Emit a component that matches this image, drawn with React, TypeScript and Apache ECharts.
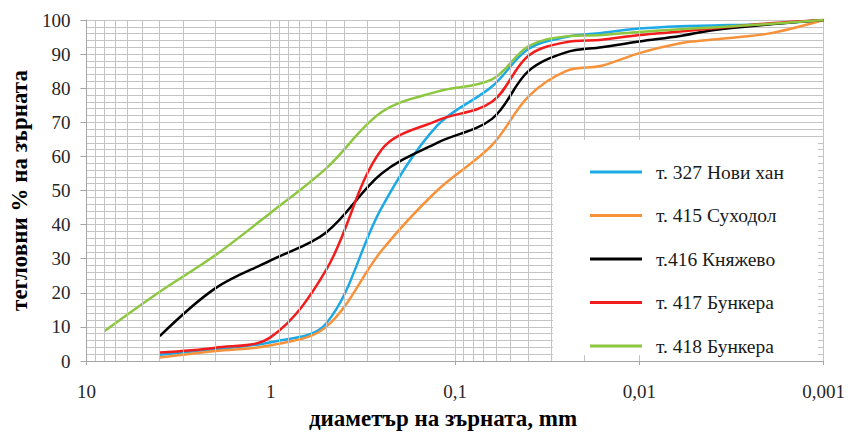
import React, { useEffect, useRef } from 'react';
import * as echarts from 'echarts';

// sieve / hydrometer diameters, mm
const diameters = [8, 4, 2, 1, 0.5, 0.25, 0.125, 0.063, 0.04, 0.025, 0.016, 0.01, 0.006, 0.004, 0.002, 0.001];

const seriesNames = ['т. 327 Нови хан', 'т. 415 Суходол', 'т.416 Княжево', 'т. 417 Бункера', 'т. 418 Бункера'];
const seriesColors = ['#1CA9E6', '#F7923A', '#000000', '#F21C1C', '#8DC63F'];

const noviHan = [null, 1.8, 3.5, 5.5, 11, 45, 69, 80.5, 91.5, 95, 96.2, 97.5, 98.2, 98.4, 98.8, 100];
const suhodol = [null, 1, 2.9, 4.6, 10, 32.4, 50, 63.3, 77.5, 85, 86.6, 90.3, 93.2, 94.3, 96, 100];
const knyazhevo = [null, 7.3, 21.3, 29.5, 37.7, 55, 64, 71, 85, 90.5, 92, 93.7, 95.3, 97, 98.7, 100];
const bunkera417 = [null, 2.5, 3.9, 7, 26.7, 62, 70.5, 76, 89.5, 93.5, 94.2, 95.6, 96.6, 97.5, 99, 100];
const bunkera418 = [8.7, 20.3, 31, 43.5, 56.5, 73, 79, 82.6, 92.3, 95.2, 95.6, 96.5, 97.3, 97.8, 98.8, 100];

const seriesValues = [noviHan, suhodol, knyazhevo, bunkera417, bunkera418];

const xTickLabels: Record<string, string> = { '1': '10', '0': '1', '-1': '0,1', '-2': '0,01', '-3': '0,001' };

const minorSteps = [2, 3, 4, 5, 6, 7, 8, 9];
const decades = [0.001, 0.01, 0.1, 1];

const FONT = 'Liberation Serif';
const GRID = '#c4c4c4';

export default function App() {
  const ref = useRef<HTMLDivElement>(null);
  useEffect(() => {
    if (!ref.current) return;
    document.body.style.margin = '0';
    const chart = echarts.init(ref.current, null, { renderer: 'svg' });
    const minorLines: any[] = [];
    decades.forEach((d) => minorSteps.forEach((s) => minorLines.push({ xAxis: +(d * s).toPrecision(3) })));

    const lineSeries = seriesNames.map((name, i) => ({
      name,
      type: 'line',
      z: 3,
      symbol: 'none',
      smooth: 0.35,
      data: diameters.map((d, k) => [d, seriesValues[i][k]]).filter((p) => p[1] !== null),
      lineStyle: { color: seriesColors[i], width: 2.5 },
      itemStyle: { color: seriesColors[i] },
    }));

    chart.setOption({
      animation: false,
      textStyle: { fontFamily: FONT },
      grid: { left: 83, right: 21, top: 20, bottom: 70 },
      xAxis: {
        type: 'log',
        logBase: 10,
        min: 0.001,
        max: 10,
        inverse: true,
        name: 'диаметър на зърната, mm',
        nameLocation: 'middle',
        nameGap: 46,
        nameTextStyle: { fontFamily: FONT, fontSize: 23, fontWeight: 'bold', color: '#000', padding: [0, 24, 0, 0] },
        axisLine: { show: true, lineStyle: { color: '#a6a6a6', width: 1 } },
        axisTick: { show: true, length: 4, lineStyle: { color: '#a6a6a6' } },
        axisLabel: {
          margin: 21,
          fontFamily: FONT,
          fontSize: 19,
          color: '#262626',
          formatter: (v: number) => xTickLabels[String(Math.round(Math.log10(v)))] ?? '',
        },
        splitLine: { show: true, lineStyle: { color: GRID, width: 1 } },
      },
      yAxis: {
        type: 'value',
        min: 0,
        max: 100,
        interval: 10,
        name: 'тегловни % на зърната',
        nameLocation: 'middle',
        nameGap: 51,
        nameTextStyle: { fontFamily: FONT, fontSize: 23, fontWeight: 'bold', color: '#000' },
        axisLine: { show: true, lineStyle: { color: '#a6a6a6', width: 1 } },
        axisTick: { show: true, length: 6, lineStyle: { color: '#a6a6a6' } },
        axisLabel: { margin: 16, fontFamily: FONT, fontSize: 19, color: '#262626' },
        splitLine: { show: true, lineStyle: { color: GRID, width: 1 } },
        minorTick: { show: false, splitNumber: 5 },
        minorSplitLine: { show: true, lineStyle: { color: GRID, width: 1 } },
      },
      legend: {
        z: 200,
        orient: 'vertical',
        left: 585,
        top: 157,
        itemWidth: 52,
        itemHeight: 19,
        itemGap: 23.5,
        data: seriesNames.map((n) => ({ name: n, icon: 'path://M0 0H52V3H0Z' })),
        textStyle: { fontFamily: FONT, fontSize: 19.5, color: '#1a1a1a', lineHeight: 19, padding: [0, 0, 0, 9] },
      },
      graphic: [
        {
          type: 'rect',
          z: 100,
          left: 553,
          top: 140,
          shape: { width: 265, height: 215 },
          style: { fill: '#ffffff' },
        },
      ],
      series: [
        {
          name: 'grid-minor',
          type: 'line',
          z: 1,
          data: [],
          markLine: {
            silent: true,
            symbol: 'none',
            label: { show: false },
            lineStyle: { color: GRID, width: 1, type: 'solid' },
            data: minorLines,
          },
        },
        ...lineSeries,
      ],
    });
    return () => chart.dispose();
  }, []);
  return <div ref={ref} style={{ width: 848, height: 435 }} />;
}
